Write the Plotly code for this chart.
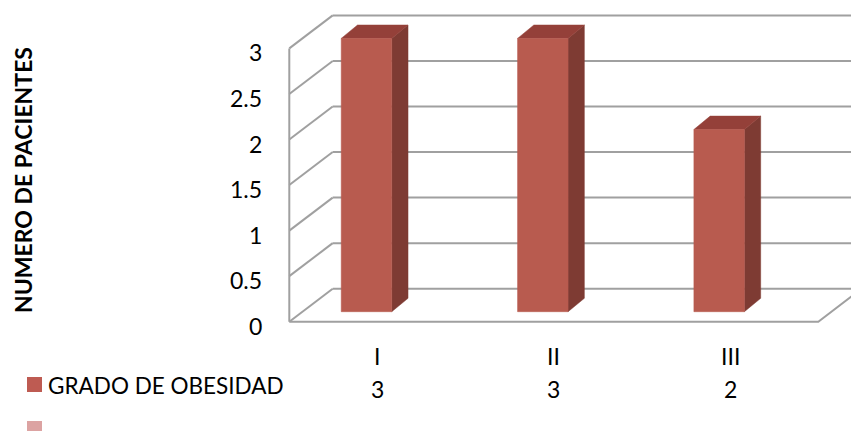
import plotly.graph_objects as go

# ---- data ----
categories = ["I", "II", "III"]
patients = [3, 3, 2]
series_name = "GRADO DE OBESIDAD"
y_ticks = [0, 0.5, 1, 1.5, 2, 2.5, 3]
y_tick_labels = ["0", "0.5", "1", "1.5", "2", "2.5", "3"]
y_title = "NUMERO DE PACIENTES"

# ---- layout geometry (pixels) ----
W, H = 851, 431
FLOOR_LEFT_PX, FLOOR_RIGHT_PX, FLOOR_Y_PX = 289.3, 818.3, 321.7
PX_PER_UNIT_Y = 91.1
n = len(categories)
px_per_cat = (FLOOR_RIGHT_PX - FLOOR_LEFT_PX) / n
x_range = [-0.5 - FLOOR_LEFT_PX / px_per_cat, -0.5 + (W - FLOOR_LEFT_PX) / px_per_cat]
y_range = [-(H - FLOOR_Y_PX) / PX_PER_UNIT_Y, FLOOR_Y_PX / PX_PER_UNIT_Y]

# oblique depth offset of the back wall, in data units
DX = 43.4 / px_per_cat
DY = 33.0 / PX_PER_UNIT_Y
y_top = max(y_ticks)
x_left = -0.5
x_right = n - 0.5

# column placement inside the box (data units)
BAR_SHIFT = -11.0 / px_per_cat     # front face centre relative to category centre
BAR_W = 50.5 / px_per_cat
BAR_LIFT = 10.0 / PX_PER_UNIT_Y    # front face sits a little behind the floor edge
BAR_DX = 16.3 / px_per_cat
BAR_DY = 13.4 / PX_PER_UNIT_Y

GRID = "#A0A0A0"
FRONT = "#B85B4F"
SIDE = "#7E3B33"
TOP = "#944039"
FONT = "Lato"

fig = go.Figure()

# walls and gridlines
gx, gy = [], []
for v in y_ticks:
    # left wall diagonal
    gx += [x_left, x_left + DX, None]
    gy += [v, v + DY, None]
    # back wall horizontal
    gx += [x_left + DX, x_range[1] + 1, None]
    gy += [v + DY, v + DY, None]
# front-left vertical edge
gx += [x_left, x_left, None]
gy += [0, y_top, None]
# floor front edge and right diagonal
gx += [x_left, x_right, x_right + DX, None]
gy += [0, 0, DY, None]
fig.add_trace(go.Scatter(x=gx, y=gy, mode="lines",
                         line=dict(color=GRID, width=2),
                         hoverinfo="skip", showlegend=False))

# 3D columns: front, side and top faces
fx, fy, sx, sy, tx, ty = [], [], [], [], [], []
for i, val in enumerate(patients):
    xl = i + BAR_SHIFT - BAR_W / 2
    xr = xl + BAR_W
    yb = BAR_LIFT
    yt = val + BAR_LIFT
    fx += [xl, xr, xr, xl, xl, None]
    fy += [yb, yb, yt, yt, yb, None]
    sx += [xr, xr + BAR_DX, xr + BAR_DX, xr, xr, None]
    sy += [yb, yb + BAR_DY, yt + BAR_DY, yt, yb, None]
    tx += [xl, xr, xr + BAR_DX, xl + BAR_DX, xl, None]
    ty += [yt, yt, yt + BAR_DY, yt + BAR_DY, yt, None]

for xs, ys, col in [(sx, sy, SIDE), (tx, ty, TOP), (fx, fy, FRONT)]:
    fig.add_trace(go.Scatter(x=xs, y=ys, mode="lines", fill="toself",
                             fillcolor=col, line=dict(color=col, width=0.5),
                             hoverinfo="skip", showlegend=False))

ann = []
# value axis labels
for v, lab in zip(y_ticks, y_tick_labels):
    ann.append(dict(x=264 / W, xref="paper", y=v, yref="y", text=lab,
                    xanchor="right", yanchor="middle", yshift=-4,
                    showarrow=False, font=dict(family=FONT, size=23, color="#000")))
# axis title
ann.append(dict(x=23 / W, xref="paper", y=1 - 180 / H, yref="paper", text="<b>" + y_title + "</b>",
                textangle=-90, xanchor="center", yanchor="middle", showarrow=False,
                font=dict(family=FONT, size=23, color="#000")))
# data table: categories and values
for i, (c, val) in enumerate(zip(categories, patients)):
    ann.append(dict(x=i, xref="x", y=1 - 356 / H, yref="paper", text=c,
                    xanchor="center", yanchor="middle", showarrow=False,
                    font=dict(family=FONT, size=23, color="#000")))
    ann.append(dict(x=i, xref="x", y=1 - 389 / H, yref="paper", text=str(val),
                    xanchor="center", yanchor="middle", showarrow=False,
                    font=dict(family=FONT, size=23, color="#000")))
# legend key text
ann.append(dict(x=46 / W, xref="paper", y=1 - 385 / H, yref="paper", text=series_name,
                xanchor="left", yanchor="middle", showarrow=False,
                font=dict(family=FONT, size=22.5, color="#000")))

shapes = [
    dict(type="rect", xref="paper", yref="paper", x0=27 / W, x1=42 / W,
         y0=1 - 392 / H, y1=1 - 377 / H, fillcolor="#BE5B52", line=dict(width=0)),
    dict(type="rect", xref="paper", yref="paper", x0=27 / W, x1=42 / W,
         y0=1 - 431 / H, y1=1 - 421 / H, fillcolor="#DCA3A2", line=dict(width=0)),
]

fig.update_layout(
    width=W, height=H,
    margin=dict(l=0, r=0, t=0, b=0),
    paper_bgcolor="white", plot_bgcolor="white",
    xaxis=dict(range=x_range, visible=False, fixedrange=True),
    yaxis=dict(range=y_range, visible=False, fixedrange=True),
    annotations=ann, shapes=shapes, showlegend=False,
)

fig.write_html("out.html")
